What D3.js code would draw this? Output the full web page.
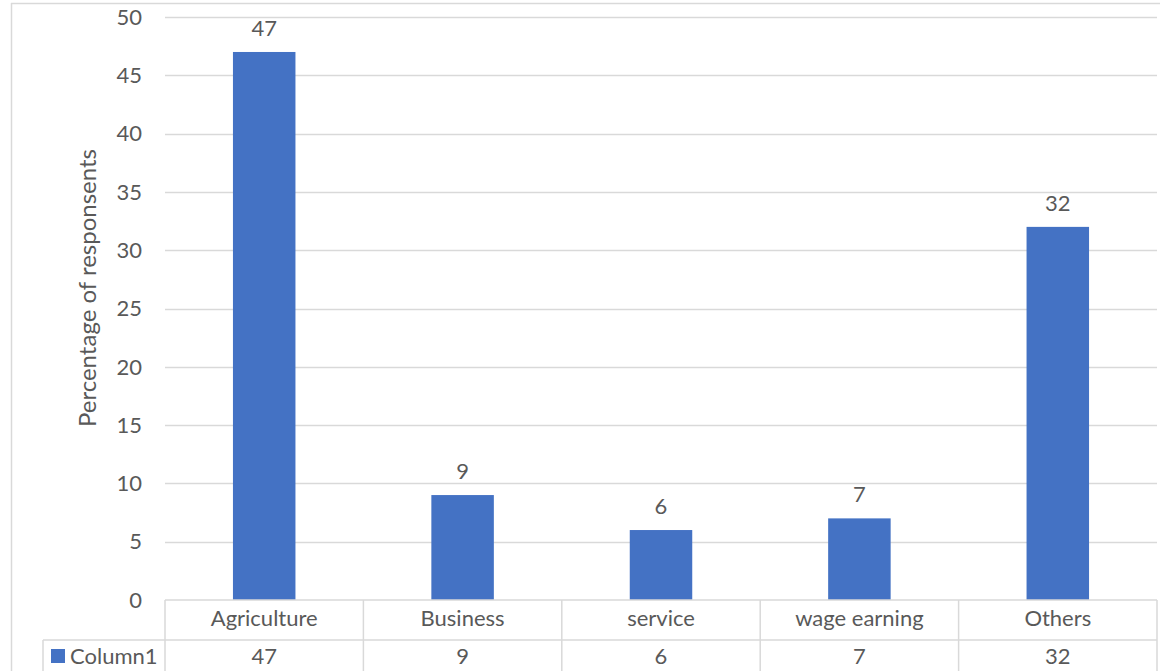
<!DOCTYPE html>
<html><head><meta charset="utf-8">
<script src="https://cdn.jsdelivr.net/npm/d3@7"></script>
<style>body{margin:0;background:#fff;overflow:hidden}svg{display:block}text{font-family:Lato,"Open Sans",sans-serif;fill:#595959}</style>
</head><body>
<script>
const categories = ["Agriculture","Business","service","wage earning","Others"];
const values = [47,9,6,7,32];
const seriesName = "Column1";
const yTicks = [0,5,10,15,20,25,30,35,40,45,50];
const yTitle = "Percentage of responsents";

(function(){
const W=1160,H=671;
const svg=d3.select("body").append("svg").attr("width",W).attr("height",H);
const pl=165,pr=1157,pt=17,pb=600;
const x=d3.scaleBand().domain(categories).range([pl,pr]).paddingInner(0).paddingOuter(0);
const y=d3.scaleLinear().domain([0,50]).range([pb,pt]);
const grid="#d9d9d9";
const fs="22px";

// frame
svg.append("line").attr("x1",11).attr("x2",W).attr("y1",3.5).attr("y2",3.5).attr("stroke",grid).attr("stroke-width",1.5);
svg.append("line").attr("x1",11.5).attr("x2",11.5).attr("y1",3).attr("y2",H).attr("stroke",grid).attr("stroke-width",1.5);

// gridlines
svg.append("g").selectAll("line").data(yTicks.filter(d=>d>0)).join("line")
 .attr("x1",pl).attr("x2",pr).attr("y1",d=>Math.round(y(d))+0.5).attr("y2",d=>Math.round(y(d))+0.5)
 .attr("stroke",grid).attr("stroke-width",1.5);

// y tick labels
svg.append("g").selectAll("text").data(yTicks).join("text")
 .attr("x",142).attr("y",d=>y(d)).attr("dy","0.35em").attr("text-anchor","end")
 .style("font-size",fs).text(d=>d);

// y title
svg.append("text").attr("transform",`translate(96,${288}) rotate(-90)`)
 .attr("text-anchor","middle").style("font-size","24px").text(yTitle);

// bars
const bw=x.bandwidth()*0.315;
svg.append("g").selectAll("rect").data(values).join("rect")
 .attr("x",(d,i)=>x(categories[i])+x.bandwidth()/2-bw/2).attr("width",bw)
 .attr("y",d=>y(d)).attr("height",d=>pb-y(d)).attr("fill","#4472C4");

// data labels
svg.append("g").selectAll("text").data(values).join("text")
 .attr("x",(d,i)=>x(categories[i])+x.bandwidth()/2).attr("y",d=>y(d)-16)
 .attr("text-anchor","middle").style("font-size",fs).text(d=>d);

// data table
const r1=600,r2=640,r3=H+5, legL=43;
const tbl=svg.append("g").attr("stroke",grid).attr("stroke-width",1.5).attr("fill","none");
tbl.append("line").attr("x1",pl).attr("x2",pr).attr("y1",r1).attr("y2",r1);
tbl.append("line").attr("x1",legL).attr("x2",pr).attr("y1",r2).attr("y2",r2);
const bounds=categories.map(c=>x(c)).concat([pr]);
tbl.selectAll(".v").data(bounds).join("line").attr("x1",d=>d).attr("x2",d=>d).attr("y1",r1).attr("y2",r3);
tbl.append("line").attr("x1",legL).attr("x2",legL).attr("y1",r2).attr("y2",r3);

svg.append("g").selectAll("text").data(categories).join("text")
 .attr("x",d=>x(d)+x.bandwidth()/2).attr("y",618).attr("dy","0.35em")
 .attr("text-anchor","middle").style("font-size",fs).text(d=>d);
svg.append("g").selectAll("text").data(values).join("text")
 .attr("x",(d,i)=>x(categories[i])+x.bandwidth()/2).attr("y",656).attr("dy","0.35em")
 .attr("text-anchor","middle").style("font-size",fs).text(d=>d);
svg.append("rect").attr("x",51).attr("y",649).attr("width",14).attr("height",14).attr("fill","#4472C4");
svg.append("text").attr("x",70).attr("y",656).attr("dy","0.35em").style("font-size",fs).text(seriesName);
})();
</script>
</body></html>
